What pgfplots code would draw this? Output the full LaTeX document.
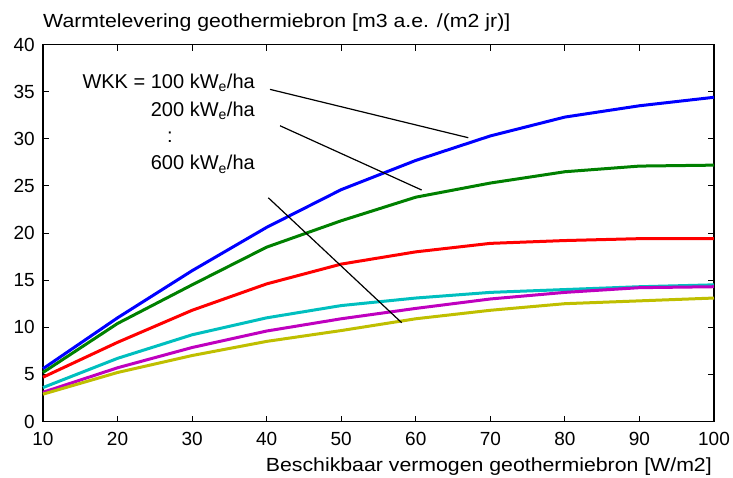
\documentclass[border=0pt]{standalone}
\usepackage{fontspec}
\setmainfont{Liberation Sans}
\newfontfamily\widefont{Liberation Sans}[FakeStretch=1.12]
\usepackage{pgfplots}
\pgfplotsset{compat=1.18}

\definecolor{mblue}{rgb}{0,0,1}
\definecolor{mgreen}{rgb}{0,0.5,0}
\definecolor{mred}{rgb}{1,0,0}
\definecolor{mcyan}{rgb}{0,0.75,0.75}
\definecolor{mmagenta}{rgb}{0.75,0,0.75}
\definecolor{myellow}{rgb}{0.75,0.75,0}

\begin{document}
\begin{tikzpicture}
\useasboundingbox (-43pt,-55.5pt) rectangle (690pt,421.5pt);
\begin{axis}[
    scale only axis,
    width=671pt, height=377pt,
    xmin=10, xmax=100, ymin=0, ymax=40,
    xtick={10,20,...,100},
    ytick={0,5,...,40},
    tick align=inside,
    major tick length=6pt,
    axis line style={line width=1.3pt},
    every tick/.style={black, line width=0.9pt},
    tick label style={font=\fontsize{19pt}{22pt}\selectfont, inner sep=1.5pt},
    /pgf/number format/assume math mode=true,
    xticklabel style={yshift=-9.5pt},
    yticklabel style={xshift=-6.5pt},
    clip=false,
    every axis plot/.append style={line width=3pt, line join=round},
]
\addplot[mblue] coordinates {(10,5.6)(20,11.0)(30,16.0)(40,20.6)(50,24.6)(60,27.7)(70,30.3)(80,32.3)(90,33.5)(100,34.4)};
\addplot[mgreen] coordinates {(10,5.2)(20,10.4)(30,14.5)(40,18.5)(50,21.3)(60,23.8)(70,25.3)(80,26.5)(90,27.1)(100,27.2)};
\addplot[mred] coordinates {(10,4.7)(20,8.4)(30,11.8)(40,14.6)(50,16.7)(60,18.0)(70,18.9)(80,19.2)(90,19.4)(100,19.4)};
\addplot[mcyan] coordinates {(10,3.6)(20,6.7)(30,9.2)(40,11.0)(50,12.3)(60,13.1)(70,13.7)(80,14.0)(90,14.3)(100,14.5)};
\addplot[mmagenta] coordinates {(10,3.1)(20,5.7)(30,7.85)(40,9.6)(50,10.9)(60,12.0)(70,13.0)(80,13.7)(90,14.2)(100,14.3)};
\addplot[myellow] coordinates {(10,2.9)(20,5.2)(30,7.0)(40,8.5)(50,9.65)(60,10.9)(70,11.8)(80,12.5)(90,12.8)(100,13.1)};

% annotation lines
\addplot[black, line width=1.2pt] coordinates {(40.45,35.24)(67.04,30.11)};
\addplot[black, line width=1.2pt] coordinates {(41.79,31.38)(60.79,24.56)};
\addplot[black, line width=1.2pt] coordinates {(40.22,23.74)(58.11,10.48)};

\begin{scope}[every node/.style={inner sep=0pt, font=\fontsize{20pt}{24pt}\selectfont}]
\node[anchor=base east] at (axis cs:38.43,35.35) {WKK = 100 kW\textsubscript{e}/ha};
\node[anchor=base east] at (axis cs:38.43,32.41) {200 kW\textsubscript{e}/ha};
\node[anchor=base] at (axis cs:27.03,29.55) {:};
\node[anchor=base east] at (axis cs:38.43,26.69) {600 kW\textsubscript{e}/ha};
\end{scope}

\node[anchor=base west, inner sep=0pt, yshift=17.5pt, font=\widefont\fontsize{19pt}{23pt}\selectfont] at (rel axis cs:0,1) {Warmtelevering geothermiebron [m3 a.e. /(m2 jr)]};
\node[anchor=base east, inner sep=0pt, yshift=-49.5pt, xshift=-2pt, font=\widefont\fontsize{19pt}{23pt}\selectfont] at (rel axis cs:1,0) {Beschikbaar vermogen geothermiebron [W/m2]};
\end{axis}
\end{tikzpicture}
\end{document}
